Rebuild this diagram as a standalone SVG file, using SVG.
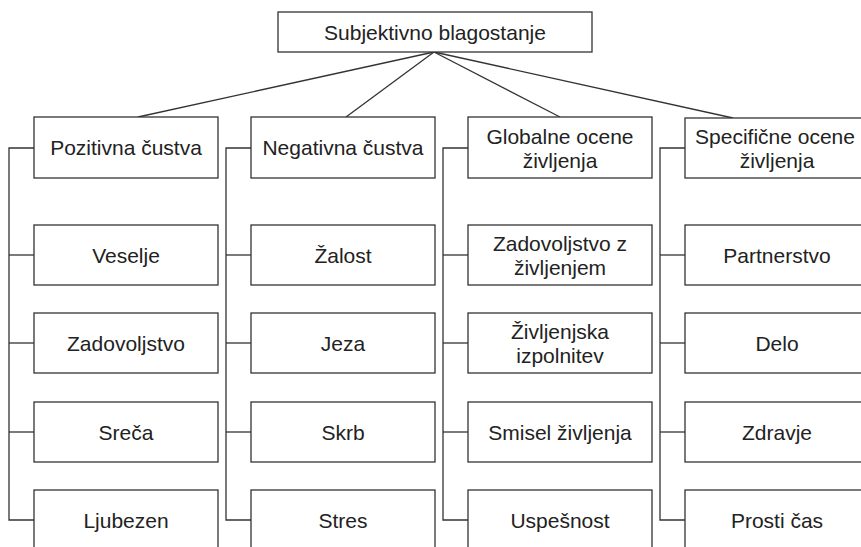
<svg xmlns="http://www.w3.org/2000/svg" width="861" height="547" viewBox="0 0 861 547">
  <style>
    .box rect { fill: #ffffff; stroke: #333333; stroke-width: 1.3; }
    .box text { font-family: "Liberation Sans", Arial, sans-serif; font-size: 21px; fill: #222222; text-anchor: middle; }
    #connectors line, #connectors polyline { stroke: #333333; stroke-width: 1.3; fill: none; }
  </style>
  <rect x="0" y="0" width="861" height="547" fill="#ffffff"/>

  <g id="connectors">
    <!-- fan from root to the four categories -->
    <line x1="434" y1="52" x2="138" y2="117"/>
    <line x1="434" y1="52" x2="346" y2="117"/>
    <line x1="434" y1="52" x2="560" y2="117"/>
    <line x1="434" y1="52" x2="733" y2="118"/>
    <!-- column brackets -->
    <polyline points="34,148 9,148 9,520 34,520"/>
    <line x1="9" y1="255" x2="34" y2="255"/>
    <line x1="9" y1="343" x2="34" y2="343"/>
    <line x1="9" y1="432" x2="34" y2="432"/>

    <polyline points="251,148 226,148 226,520 251,520"/>
    <line x1="226" y1="255" x2="251" y2="255"/>
    <line x1="226" y1="343" x2="251" y2="343"/>
    <line x1="226" y1="432" x2="251" y2="432"/>

    <polyline points="468,148 443,148 443,520 468,520"/>
    <line x1="443" y1="255" x2="468" y2="255"/>
    <line x1="443" y1="343" x2="468" y2="343"/>
    <line x1="443" y1="432" x2="468" y2="432"/>

    <polyline points="685,148 660,148 660,520 685,520"/>
    <line x1="660" y1="255" x2="685" y2="255"/>
    <line x1="660" y1="343" x2="685" y2="343"/>
    <line x1="660" y1="432" x2="685" y2="432"/>
  </g>

  <g id="root" class="box">
    <rect x="278" y="12" width="314" height="40"/>
    <text x="435" y="39.5">Subjektivno blagostanje</text>
  </g>

  <!-- column 1 -->
  <g id="pozitivna" class="box">
    <rect x="34" y="117" width="184" height="61"/>
    <text x="126" y="155">Pozitivna čustva</text>
  </g>
  <g id="veselje" class="box">
    <rect x="34" y="225" width="184" height="60"/>
    <text x="126" y="262.5">Veselje</text>
  </g>
  <g id="zadovoljstvo" class="box">
    <rect x="34" y="313" width="184" height="60"/>
    <text x="126" y="350.5">Zadovoljstvo</text>
  </g>
  <g id="sreca" class="box">
    <rect x="34" y="402" width="184" height="60"/>
    <text x="126" y="439.5">Sreča</text>
  </g>
  <g id="ljubezen" class="box">
    <rect x="34" y="490" width="184" height="60"/>
    <text x="126" y="527.5">Ljubezen</text>
  </g>

  <!-- column 2 -->
  <g id="negativna" class="box">
    <rect x="251" y="117" width="184" height="61"/>
    <text x="343" y="155">Negativna čustva</text>
  </g>
  <g id="zalost" class="box">
    <rect x="251" y="225" width="184" height="60"/>
    <text x="343" y="262.5">Žalost</text>
  </g>
  <g id="jeza" class="box">
    <rect x="251" y="313" width="184" height="60"/>
    <text x="343" y="350.5">Jeza</text>
  </g>
  <g id="skrb" class="box">
    <rect x="251" y="402" width="184" height="60"/>
    <text x="343" y="439.5">Skrb</text>
  </g>
  <g id="stres" class="box">
    <rect x="251" y="490" width="184" height="60"/>
    <text x="343" y="527.5">Stres</text>
  </g>

  <!-- column 3 -->
  <g id="globalne" class="box">
    <rect x="468" y="117" width="184" height="61"/>
    <text x="560" y="143.5">Globalne ocene</text>
    <text x="560" y="167.5">življenja</text>
  </g>
  <g id="zadovoljstvo-z-zivljenjem" class="box">
    <rect x="468" y="225" width="184" height="60"/>
    <text x="560" y="251">Zadovoljstvo z</text>
    <text x="560" y="275">življenjem</text>
  </g>
  <g id="zivljenjska-izpolnitev" class="box">
    <rect x="468" y="313" width="184" height="60"/>
    <text x="560" y="339">Življenjska</text>
    <text x="560" y="363">izpolnitev</text>
  </g>
  <g id="smisel" class="box">
    <rect x="468" y="402" width="184" height="60"/>
    <text x="560" y="439.5">Smisel življenja</text>
  </g>
  <g id="uspesnost" class="box">
    <rect x="468" y="490" width="184" height="60"/>
    <text x="560" y="527.5">Uspešnost</text>
  </g>

  <!-- column 4 -->
  <g id="specificne" class="box">
    <rect x="685" y="118" width="184" height="60"/>
    <text x="775" y="143.5">Specifične ocene</text>
    <text x="777" y="167.5">življenja</text>
  </g>
  <g id="partnerstvo" class="box">
    <rect x="685" y="225" width="184" height="60"/>
    <text x="777" y="262.5">Partnerstvo</text>
  </g>
  <g id="delo" class="box">
    <rect x="685" y="313" width="184" height="60"/>
    <text x="777" y="350.5">Delo</text>
  </g>
  <g id="zdravje" class="box">
    <rect x="685" y="402" width="184" height="60"/>
    <text x="777" y="439.5">Zdravje</text>
  </g>
  <g id="prosti-cas" class="box">
    <rect x="685" y="490" width="184" height="60"/>
    <text x="777" y="527.5">Prosti čas</text>
  </g>
</svg>
